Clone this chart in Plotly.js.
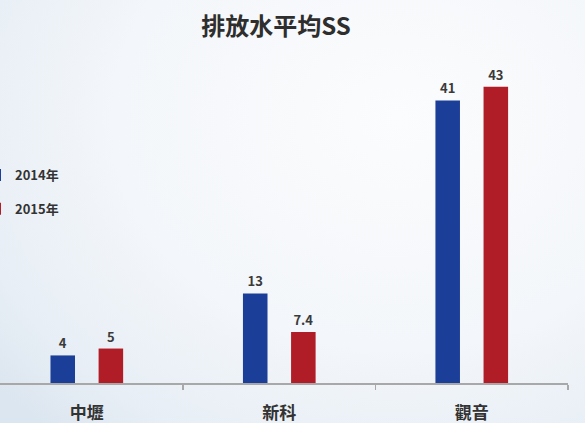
<!DOCTYPE html>
<html>
<head>
<meta charset="utf-8">
<script src="https://cdn.plot.ly/plotly-3.0.1.min.js"></script>
<style>
html, body { margin: 0; padding: 0; }
body {
  width: 585px; height: 423px; overflow: hidden;
  background: radial-gradient(ellipse 520px 420px at 68% 28%, #fbfcfd 0%, #f3f6fa 55%, #e7eef5 85%, #dce6f0 100%);
}
#chart { width: 585px; height: 423px; }
</style>
</head>
<body>
<div id="chart"></div>
<script>
const categories = ['中壢', '新科', '觀音'];
const seriesNames = ['2014年', '2015年'];
const values2014 = [4, 13, 41];
const values2015 = [5, 7.4, 43];
const labels2014 = ['4', '13', '41'];
const labels2015 = ['5', '7.4', '43'];

const fontFamily = '"Noto Sans CJK TC", "Noto Sans", sans-serif';
const labelFont = { family: fontFamily, size: 13, color: '#3a3a3a', weight: 'bold' };

const traces = [
  {
    type: 'bar', name: seriesNames[0], x: categories, y: values2014,
    text: labels2014, textposition: 'outside', textfont: labelFont,
    marker: { color: '#1b3f98' }, legendgroup: 'a', cliponaxis: false,
    hoverinfo: 'x+y+name'
  },
  {
    type: 'bar', name: seriesNames[1], x: categories, y: values2015,
    text: labels2015, textposition: 'outside', textfont: labelFont,
    marker: { color: '#b01d26' }, legendgroup: 'b', cliponaxis: false,
    hoverinfo: 'x+y+name'
  }
];

const layout = {
  width: 585, height: 423,
  margin: { l: 0, r: 17, t: 66, b: 40, autoexpand: false },
  paper_bgcolor: 'rgba(0,0,0,0)',
  plot_bgcolor: 'rgba(0,0,0,0)',
  font: { family: fontFamily, color: '#333' },
  title: {
    text: '排放水平均SS',
    font: { family: fontFamily, size: 24, color: '#2e2e2e', weight: 'bold' },
    xref: 'container', x: 276 / 585, xanchor: 'center',
    yref: 'container', y: (423 - 27) / 423, yanchor: 'middle'
  },
  barmode: 'group',
  bargap: 0.5,
  bargroupgap: 0.49,
  xaxis: {
    type: 'category',
    range: [-0.451, 2.5],
    showgrid: false, zeroline: false,
    showline: true, linecolor: '#a8a8a8', linewidth: 1.5,
    ticks: 'outside', tickson: 'boundaries', ticklen: 5, tickcolor: '#a8a8a8', tickwidth: 1.5,
    tickfont: { family: fontFamily, size: 17, color: '#333', weight: 'bold' },
    ticklabelstandoff: 14,
    fixedrange: true
  },
  yaxis: {
    range: [0, 46], visible: false, showgrid: false, zeroline: false, fixedrange: true
  },
  showlegend: true,
  legend: {
    x: -25 / 568, xanchor: 'left',
    y: (383 - 160) / 317, yanchor: 'top',
    bgcolor: 'rgba(0,0,0,0)',
    traceorder: 'grouped',
    tracegroupgap: 14,
    font: { family: fontFamily, size: 13, color: '#333', weight: 'bold' }
  }
};

Plotly.newPlot('chart', traces, layout, { displayModeBar: false, staticPlot: true });
</script>
</body>
</html>
